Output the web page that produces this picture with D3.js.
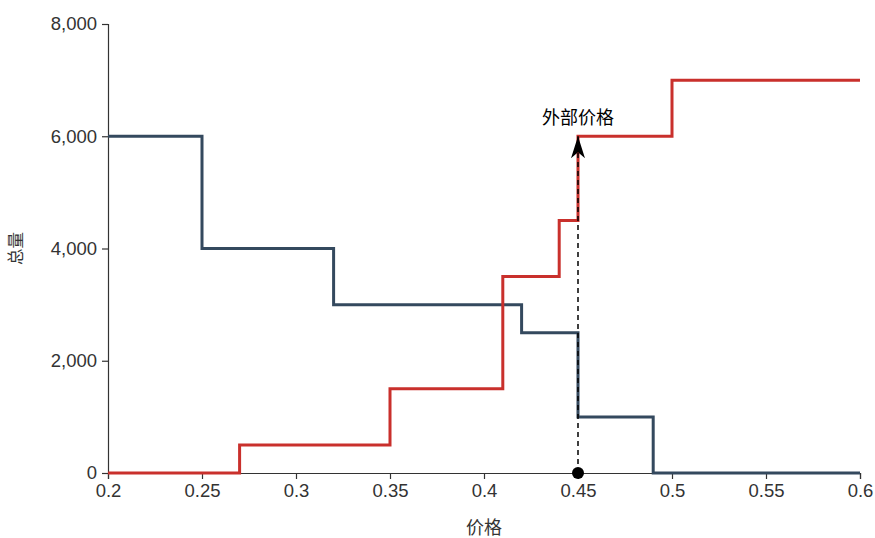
<!DOCTYPE html>
<html lang="zh">
<head>
<meta charset="UTF-8">
<title>价格与总量</title>
<script src="https://d3js.org/d3.v7.min.js"></script>
<style>
  body { margin: 0; background: #fff; font-family: "Liberation Sans", Arial, "Noto Sans CJK SC", sans-serif; }
  .tick line, .domain { stroke: #333; stroke-width: 1.2px; }
  .axis-label { font-size: 18px; fill: #333; font-family: "Noto Sans CJK SC", sans-serif; }
</style>
</head>
<body>
<svg id="chart" width="875" height="538"></svg>
<script>
// step points: value holds from this price up to the next one
const demandPrice = [0.2, 0.25, 0.32, 0.42, 0.45, 0.49, 0.6];
const demandQty   = [6000, 4000, 3000, 2500, 1000, 0, 0];
const supplyPrice = [0.2, 0.27, 0.35, 0.41, 0.44, 0.45, 0.5, 0.6];
const supplyQty   = [0, 500, 1500, 3500, 4500, 6000, 7000, 7000];
const outsidePrice = 0.45;
const outsideQty = 6000;

const width = 875, height = 538;
const margin = { top: 24, right: 15, bottom: 65, left: 108 };

const svg = d3.select("#chart");

const x = d3.scaleLinear().domain([0.2, 0.6]).range([margin.left, width - margin.right]);
const y = d3.scaleLinear().domain([0, 8000]).range([height - margin.bottom, margin.top]);

svg.append("g")
  .attr("transform", `translate(0,${height - margin.bottom})`)
  .call(d3.axisBottom(x).tickValues(d3.range(0.2, 0.6001, 0.05)).tickFormat(d3.format("~g")).tickPadding(5));

svg.append("g")
  .attr("transform", `translate(${margin.left},0)`)
  .call(d3.axisLeft(y).ticks(4).tickFormat(d3.format(",")).tickPadding(5));

svg.selectAll(".tick text")
  .attr("font-size", null)
  .style("font-size", "18.5px")
  .style("fill", "#333")
  .style("font-family", "'Liberation Sans', Arial, sans-serif");

svg.append("text").attr("class", "axis-label")
  .attr("x", (margin.left + width - margin.right) / 2).attr("y", 534)
  .attr("text-anchor", "middle").text("价格");

svg.append("text").attr("class", "axis-label")
  .attr("transform", `translate(22,${(margin.top + height - margin.bottom) / 2}) rotate(-90)`)
  .attr("text-anchor", "middle").style("font-size", "16.5px").text("总量");

const line = d3.line().x(d => x(d[0])).y(d => y(d[1])).curve(d3.curveStepAfter);

svg.append("path")
  .datum(d3.zip(demandPrice, demandQty))
  .attr("fill", "none").attr("stroke", "#34495e").attr("stroke-width", 3)
  .attr("d", line);

svg.append("path")
  .datum(d3.zip(supplyPrice, supplyQty))
  .attr("fill", "none").attr("stroke", "#c9302c").attr("stroke-width", 3)
  .attr("d", line);

// arrow marker
svg.append("defs").append("marker")
  .attr("id", "arrow").attr("viewBox", "0 0 22 14")
  .attr("refX", 22).attr("refY", 7)
  .attr("markerWidth", 22).attr("markerHeight", 14)
  .attr("markerUnits", "userSpaceOnUse")
  .attr("orient", "auto")
  .append("path").attr("d", "M0,0 L22,7 L0,14 L6,7 Z").attr("fill", "#000");

svg.append("line")
  .attr("x1", x(outsidePrice)).attr("y1", y(0))
  .attr("x2", x(outsidePrice)).attr("y2", y(outsideQty))
  .attr("stroke", "#000").attr("stroke-width", 1.5)
  .attr("stroke-dasharray", "5,4")
  .attr("marker-end", "url(#arrow)");

svg.append("circle")
  .attr("cx", x(outsidePrice)).attr("cy", y(0)).attr("r", 6).attr("fill", "#000");

svg.append("text")
  .attr("x", x(outsidePrice)).attr("y", y(outsideQty) - 12)
  .attr("text-anchor", "middle")
  .style("font-size", "18px").style("font-family", "'Noto Sans CJK SC', sans-serif")
  .attr("fill", "#000").text("外部价格");
</script>
</body>
</html>
